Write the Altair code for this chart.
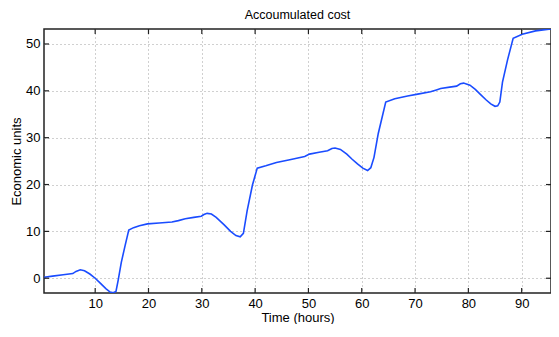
import altair as alt
import pandas as pd

# Time (hours) and accumulated cost (economic units)
hours = [0.4, 2, 4, 5.8, 6.4, 7.2, 8.0, 9.0, 10.0, 11.0, 12.0, 12.8, 13.4, 13.9,
         14.3, 14.9, 15.6, 16.3, 17.2, 18.3, 19.8, 22.0, 24.4, 25.6, 26.9, 28.5,
         29.9, 30.4, 31.0, 31.8, 32.7, 34.2, 35.4, 36.4, 37.2, 37.8, 38.5, 39.5,
         40.4, 42.0, 44.0, 46.5, 49.3, 50.2, 52.0, 53.6, 54.4, 55.0, 56.0, 57.2,
         58.2, 59.2, 60.2, 61.1, 61.7, 62.3, 63.1, 64.5, 66.2, 68.6, 70.5, 72.9,
         74.0, 74.8, 76.5, 77.8, 78.5, 79.1, 80.3, 81.3, 82.3, 83.3, 84.2, 85.0,
         85.5, 85.9, 86.4, 87.35, 88.4, 90.1, 92.6, 95.5]
cost = [0.2, 0.45, 0.75, 1.0, 1.45, 1.8, 1.6, 0.9, 0.0, -1.1, -2.2, -2.95, -3.1, -2.8,
        -0.5, 3.4, 6.9, 10.3, 10.8, 11.2, 11.6, 11.8, 12.0, 12.3, 12.7, 13.0,
        13.25, 13.6, 13.85, 13.7, 13.0, 11.4, 10.0, 9.1, 8.85, 9.6, 14.4, 19.9,
        23.5, 24.0, 24.7, 25.3, 26.0, 26.5, 26.9, 27.2, 27.7, 27.8, 27.5, 26.5,
        25.4, 24.4, 23.5, 23.0, 23.6, 25.8, 30.9, 37.6, 38.3, 38.9, 39.3, 39.8,
        40.2, 40.5, 40.8, 41.0, 41.5, 41.65, 41.2, 40.3, 39.2, 38.1, 37.2, 36.7,
        36.8, 37.6, 41.85, 46.6, 51.2, 52.1, 52.8, 53.2]
x_ticks = [10, 20, 30, 40, 50, 60, 70, 80, 90]
y_ticks = [0, 10, 20, 30, 40, 50]
x_domain = [0.4, 95.5]
y_domain = [-3.15, 53.2]

W, H = 507, 264
FONT = "Liberation Sans"
TICK_COLOR = "#222222"

df = pd.DataFrame({"t": hours, "c": cost})
xt = pd.DataFrame({"t": x_ticks})
yt = pd.DataFrame({"c": y_ticks})

xscale = alt.Scale(domain=x_domain, nice=False, zero=False)
yscale = alt.Scale(domain=y_domain, nice=False, zero=False)

common = dict(grid=True, gridColor="#a0a0a0", gridDash=[1, 3], gridWidth=1,
              domain=False, ticks=False, tickSize=0, labelPadding=4,
              labelFont=FONT, labelFontSize=13, labelColor="#000000",
              titleFont=FONT, titleFontSize=13, titleColor="#000000",
              titleFontWeight="normal")
x_axis = alt.Axis(values=x_ticks, title="Time (hours)", titlePadding=1, **common)
y_axis = alt.Axis(values=y_ticks, title="Economic units", titlePadding=2, **common)

X = alt.X("t:Q", scale=xscale, axis=x_axis, title="Time (hours)")
Y = alt.Y("c:Q", scale=yscale, axis=y_axis, title="Economic units")

line = alt.Chart(df).mark_line(color="#1a4cff", strokeWidth=1.6, clip=True).encode(x=X, y=Y)

bottom_ticks = alt.Chart(xt).mark_rule(color=TICK_COLOR, strokeWidth=1.2).encode(
    x=X, y=alt.value(H), y2=alt.value(H - 5))
top_ticks = alt.Chart(xt).mark_rule(color=TICK_COLOR, strokeWidth=1.2).encode(
    x=X, y=alt.value(0), y2=alt.value(5))
left_ticks = alt.Chart(yt).mark_rule(color=TICK_COLOR, strokeWidth=1.2).encode(
    y=Y, x=alt.value(0), x2=alt.value(5))
right_ticks = alt.Chart(yt).mark_rule(color=TICK_COLOR, strokeWidth=1.2).encode(
    y=Y, x=alt.value(W - 5), x2=alt.value(W))

chart = alt.layer(line, bottom_ticks, top_ticks, left_ticks, right_ticks).properties(
    width=W, height=H,
    title=alt.TitleParams("Accoumulated cost", font=FONT, fontSize=12.5,
                          fontWeight="normal", color="#000000", anchor="middle", offset=7),
    autosize=alt.AutoSizeParams(type="none"),
    padding={"left": 36, "top": 21, "right": 0, "bottom": 31},
    background="#ffffff",
).configure_view(stroke="#222222", strokeWidth=1.5)

chart.save("out.html", embed_options={"renderer": "svg", "actions": False})
